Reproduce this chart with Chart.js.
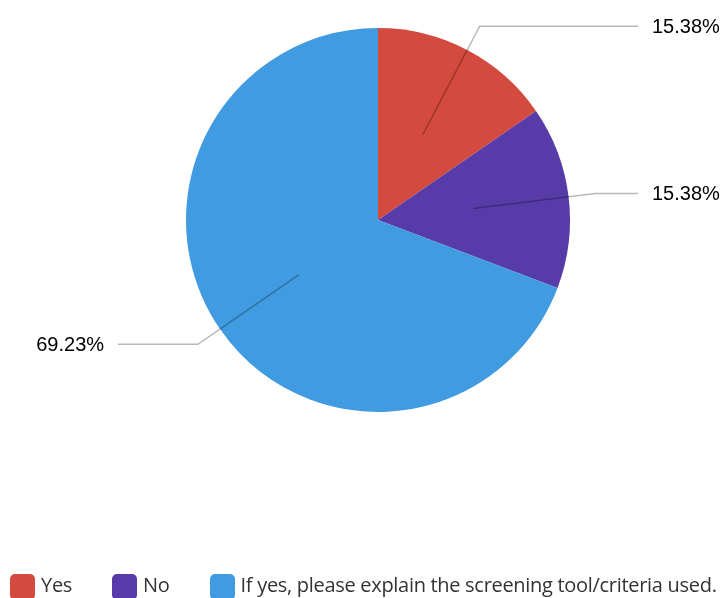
<!DOCTYPE html>
<html>
<head>
<meta charset="utf-8">
<script src="https://cdn.jsdelivr.net/npm/chart.js@4/dist/chart.umd.min.js"></script>
<style>
  html, body { margin: 0; padding: 0; background: #fff; overflow: hidden; }
  #wrap { position: relative; width: 724px; height: 606px; }
  #legend {
    position: absolute; left: 10px; top: 574px;
    display: flex; align-items: center; white-space: nowrap;
    font-family: "Open Sans", sans-serif;
    font-size: 20px; letter-spacing: -0.3px; color: #333;
  }
  #legend .item { display: flex; align-items: center; margin-right: 40px; }
  #legend .box { width: 25px; height: 26px; border-radius: 5px; margin-right: 6px; flex: none; }
  #legend .label { position: relative; top: -2px; line-height: 22px; }
</style>
</head>
<body>
<div id="wrap">
  <canvas id="pieChart"></canvas>
  <div id="legend"></div>
</div>
<script>
const categories = ['Yes', 'No', 'If yes, please explain the screening tool/criteria used.'];
const percentages = [15.38, 15.38, 69.23];
const sliceColors = ['#D54A3E', '#573CA9', '#419BE0'];

// leader lines: from inside the slice out to an elbow, then level to the label
const leaderLines = {
  id: 'leaderLines',
  afterDatasetsDraw(chart) {
    const ctx = chart.ctx;
    const arcs = chart.getDatasetMeta(0).data;
    ctx.save();
    ctx.strokeStyle = 'rgba(0,0,0,0.28)';
    ctx.lineWidth = 1.5;
    ctx.font = '20px "Liberation Sans", Arial, sans-serif';
    ctx.fillStyle = '#000';
    ctx.textBaseline = 'middle';
    arcs.forEach((arc, i) => {
      const { x, y, startAngle, endAngle, outerRadius } = arc.getProps(['x', 'y', 'startAngle', 'endAngle', 'outerRadius'], true);
      const mid = (startAngle + endAngle) / 2;
      const cos = Math.cos(mid), sin = Math.sin(mid);
      const x0 = x + cos * outerRadius * 0.5, y0 = y + sin * outerRadius * 0.5;
      const x1 = x + cos * outerRadius * 1.14, y1 = y + sin * outerRadius * 1.14;
      const right = cos >= 0;
      const x2 = x + (right ? 1 : -1) * outerRadius * 1.354;
      ctx.beginPath();
      ctx.moveTo(x0, y0);
      ctx.lineTo(x1, y1);
      ctx.lineTo(x2, y1);
      ctx.stroke();
      ctx.textAlign = right ? 'left' : 'right';
      ctx.fillText(percentages[i].toFixed(2) + '%', x2 + (right ? 14 : -14), y1 + 1);
    });
    ctx.restore();
  }
};

new Chart(document.getElementById('pieChart'), {
  type: 'pie',
  data: {
    labels: categories,
    datasets: [{
      data: percentages,
      backgroundColor: sliceColors,
      borderWidth: 0
    }]
  },
  options: {
    responsive: true,
    maintainAspectRatio: false,
    animation: false,
    layout: { padding: { left: 32, right: 0, top: 28, bottom: 194 } },
    plugins: {
      legend: { display: false },
      tooltip: { enabled: false }
    }
  },
  plugins: [leaderLines]
});

const legend = document.getElementById('legend');
categories.forEach((name, i) => {
  const item = document.createElement('div');
  item.className = 'item';
  const box = document.createElement('span');
  box.className = 'box';
  box.style.background = sliceColors[i];
  const text = document.createElement('span');
  text.className = 'label';
  text.textContent = name;
  item.appendChild(box);
  item.appendChild(text);
  legend.appendChild(item);
});
</script>
</body>
</html>
